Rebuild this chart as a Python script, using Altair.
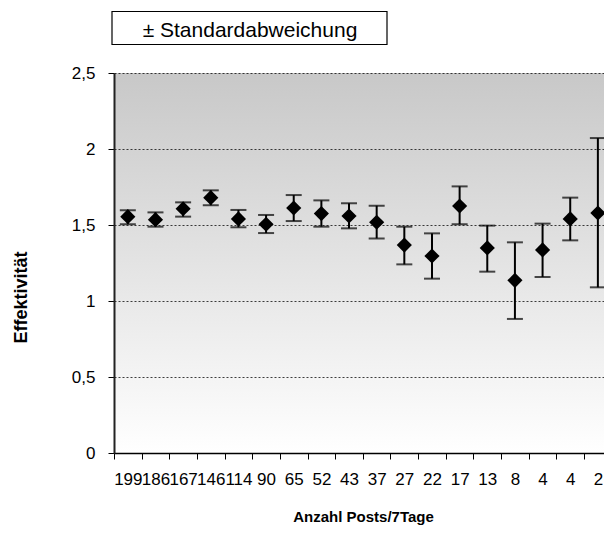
import altair as alt
import pandas as pd

labels = ["199", "186", "167", "146", "114", "90", "65", "52", "43", "37", "27", "22", "17", "13", "8", "4", "4", "2"]
means = [1.555, 1.535, 1.607, 1.68, 1.54, 1.505, 1.612, 1.575, 1.559, 1.518, 1.368, 1.296, 1.625, 1.349, 1.136, 1.336, 1.54, 1.579]
upper = [1.597, 1.583, 1.649, 1.728, 1.599, 1.566, 1.697, 1.662, 1.643, 1.627, 1.489, 1.445, 1.754, 1.496, 1.386, 1.509, 1.68, 2.072]
lower = [1.505, 1.489, 1.555, 1.63, 1.485, 1.447, 1.526, 1.489, 1.478, 1.412, 1.241, 1.147, 1.505, 1.193, 0.882, 1.158, 1.399, 1.09]
y_ticks = [0, 0.5, 1, 1.5, 2, 2.5]

df = pd.DataFrame({
    "idx": list(range(len(labels))),
    "label": labels,
    "mean": means,
    "lo": lower,
    "hi": upper,
})

W, H = 490, 380
BAND = 27.65
FONT = "Liberation Sans"

label_expr = "[" + ",".join("'%s'" % s for s in labels) + "][datum.value]"

x_enc = alt.X(
    "idx:Q",
    scale=alt.Scale(domain=[-0.5, W / BAND - 0.5], nice=False, zero=False, padding=0),
    axis=alt.Axis(
        values=list(range(len(labels))),
        labelExpr=label_expr,
        tickOffset=-BAND / 2,
        labelOffset=BAND / 2,
        labelOverlap=False,
        labelFlush=False,
        labelBound=False,
        grid=False,
        title="Anzahl Posts/7Tage",
        titleFont=FONT,
        titleFontSize=15,
        titleFontWeight="bold",
        titleColor="black",
        titleX=249,
        titleY=68,
        titleAlign="center",
        titleBaseline="alphabetic",
        labelFont=FONT,
        labelFontSize=17,
        labelColor="black",
        labelPadding=12,
        tickSize=6,
        tickColor="black",
        domainColor="black",
        domainWidth=1.3,
        zindex=1,
    ),
)

y_axis = alt.Axis(
    values=y_ticks,
    labelExpr="replace(toString(datum.value), '.', ',')",
    grid=True,
    gridColor="black",
    gridDash=[2, 2],
    gridWidth=1,
    gridOpacity=0.75,
    title="Effektivität",
    titleFont=FONT,
    titleFontSize=18,
    titleFontWeight="bold",
    titleColor="black",
    titleAngle=270,
    titleX=-88,
    titleY=224,
    titleAlign="center",
    titleBaseline="alphabetic",
    labelFont=FONT,
    labelFontSize=17,
    labelColor="black",
    labelPadding=13,
    tickSize=6,
    tickColor="black",
    domainColor="#222222",
    domainWidth=2,
    zindex=1,
)
y_scale = alt.Scale(domain=[0, 2.5], nice=False, zero=True, padding=0)

base = alt.Chart(df)

bg = alt.Chart(alt.Data(values=[{"a": 1}])).mark_rect(
    fill=alt.Gradient(
        gradient="linear",
        stops=[alt.GradientStop(color="#c8c8c8", offset=0), alt.GradientStop(color="#ffffff", offset=1)],
        x1=0, x2=0, y1=0, y2=1,
    ),
).encode(x=alt.value(0), x2=alt.value(W), y=alt.value(0), y2=alt.value(H))

rules = base.mark_rule(color="black", strokeWidth=2).encode(
    x=x_enc,
    y=alt.Y("lo:Q", scale=y_scale, axis=y_axis),
    y2="hi:Q",
)
caps_lo = base.mark_tick(color="black", orient="horizontal", size=16, thickness=2).encode(
    x=x_enc, y=alt.Y("lo:Q", scale=y_scale, axis=y_axis)
)
caps_hi = base.mark_tick(color="black", orient="horizontal", size=16, thickness=2).encode(
    x=x_enc, y=alt.Y("hi:Q", scale=y_scale, axis=y_axis)
)
points = base.mark_point(shape="diamond", filled=True, size=230, color="black", opacity=1).encode(
    x=x_enc, y=alt.Y("mean:Q", scale=y_scale, axis=y_axis)
)

legend_box = alt.Chart(alt.Data(values=[{"a": 1}])).mark_rect(
    fill="white", stroke="black", strokeWidth=1.2
).encode(x=alt.value(-2), x2=alt.value(273), y=alt.value(-61.5), y2=alt.value(-28.5))
legend_text = alt.Chart(alt.Data(values=[{"t": "± Standardabweichung"}])).mark_text(
    font=FONT, fontSize=21, color="black", align="center", baseline="alphabetic"
).encode(x=alt.value(136), y=alt.value(-36.5), text="t:N")

chart = alt.layer(bg, rules, caps_lo, caps_hi, points, legend_box, legend_text).properties(
    width=W,
    height=H,
    autosize=alt.AutoSizeParams(type="none"),
    padding={"left": 106, "top": 65, "right": 0, "bottom": 72},
).configure_view(stroke=None).configure(background="white")

chart.save("out.html", embed_options={"renderer": "svg", "actions": False})
